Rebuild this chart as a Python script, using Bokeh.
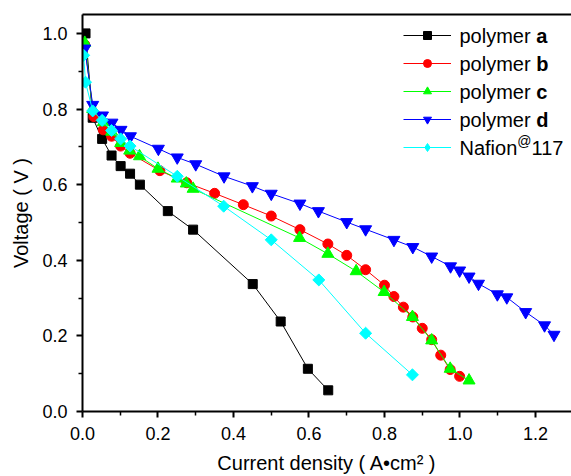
import math
from bokeh.plotting import figure
from bokeh.models import (Range1d, Legend, LegendItem, Label, LinearAxis,
                          FixedTicker, PrintfTickFormatter)
from bokeh.embed import file_html
from bokeh.resources import INLINE

# ---------------- data ----------------
a_x = [0.008, 0.027, 0.052, 0.077, 0.101, 0.126, 0.152, 0.226, 0.293, 0.451, 0.525, 0.597, 0.651]
a_y = [1.000, 0.777, 0.721, 0.677, 0.649, 0.629, 0.600, 0.530, 0.481, 0.337, 0.238, 0.113, 0.056]

b_x = [0.006, 0.030, 0.055, 0.077, 0.101, 0.126, 0.205, 0.276, 0.350, 0.426, 0.500, 0.576,
       0.650, 0.700, 0.750, 0.800, 0.825, 0.850, 0.875, 0.900, 0.925, 0.949, 0.974, 0.999]
b_y = [0.970, 0.780, 0.745, 0.728, 0.702, 0.683, 0.637, 0.605, 0.577, 0.547, 0.517, 0.481,
       0.443, 0.413, 0.375, 0.334, 0.304, 0.276, 0.250, 0.220, 0.190, 0.149, 0.111, 0.093]

c_x = [0.006, 0.027, 0.055, 0.077, 0.101, 0.125, 0.151, 0.200, 0.251, 0.275, 0.293,
       0.575, 0.650, 0.725, 0.799, 0.874, 0.925, 0.974, 1.024]
c_y = [0.975, 0.800, 0.765, 0.740, 0.710, 0.690, 0.675, 0.642, 0.616, 0.603, 0.589,
       0.459, 0.417, 0.371, 0.316, 0.250, 0.188, 0.113, 0.082]

d_x = [0.006, 0.027, 0.053, 0.078, 0.102, 0.127, 0.201, 0.251, 0.300, 0.375, 0.450, 0.500,
       0.576, 0.625, 0.700, 0.750, 0.825, 0.875, 0.925, 0.975, 0.999, 1.024, 1.049, 1.099,
       1.124, 1.174, 1.224, 1.249]
d_y = [0.960, 0.811, 0.783, 0.764, 0.745, 0.728, 0.695, 0.672, 0.654, 0.622, 0.596, 0.576,
       0.550, 0.530, 0.501, 0.482, 0.454, 0.435, 0.410, 0.384, 0.373, 0.357, 0.338, 0.310,
       0.302, 0.263, 0.228, 0.203]

n_x = [0.003, 0.008, 0.027, 0.052, 0.077, 0.101, 0.126, 0.251, 0.374, 0.500, 0.626, 0.750, 0.874]
n_y = [0.942, 0.871, 0.795, 0.770, 0.743, 0.721, 0.702, 0.622, 0.543, 0.454, 0.348, 0.207, 0.097]

x_ticks = [0.0, 0.2, 0.4, 0.6, 0.8, 1.0, 1.2]
x_minor = [0.1, 0.3, 0.5, 0.7, 0.9, 1.1]
y_ticks = [0.0, 0.2, 0.4, 0.6, 0.8, 1.0]
y_minor = [0.1, 0.3, 0.5, 0.7, 0.9]

legend_names = ["a", "b", "c", "d"]
nafion_parts = ["Nafion", "@", "117"]

FONT = "Liberation Sans"

# ---------------- figure ----------------
p = figure(width=571, height=476, output_backend="svg", toolbar_location=None,
           x_range=Range1d(0, 1.2954), y_range=Range1d(0, 1.05),
           min_border_left=82, min_border_right=0, min_border_top=14, min_border_bottom=65,
           background_fill_color="white", border_fill_color="white")
p.outline_line_color = None
p.xgrid.visible = False
p.ygrid.visible = False

for ax in (p.xaxis[0], p.yaxis[0]):
    ax.axis_line_width = 2
    ax.major_tick_line_width = 2
    ax.minor_tick_line_width = 1.5
    ax.major_tick_out = 6
    ax.major_tick_in = 0
    ax.minor_tick_out = 4
    ax.minor_tick_in = 0
    ax.major_label_text_font = FONT
    ax.major_label_text_font_size = "18px"
    ax.major_label_text_color = "black"
    ax.axis_label_text_font = FONT
    ax.axis_label_text_font_size = "20px"
    ax.axis_label_text_font_style = "normal"
    ax.axis_label_text_color = "black"
    ax.formatter = PrintfTickFormatter(format="%.1f")

p.xaxis[0].ticker = FixedTicker(ticks=x_ticks, minor_ticks=x_minor)
p.yaxis[0].ticker = FixedTicker(ticks=y_ticks, minor_ticks=y_minor)
p.xaxis[0].axis_label = "Current density ( A\u2022cm\u00b2 )"
p.yaxis[0].axis_label = "Voltage ( V )"
p.xaxis[0].major_label_standoff = 9
p.yaxis[0].major_label_standoff = 9
p.xaxis[0].axis_label_standoff = 9
p.yaxis[0].axis_label_standoff = 7

top = LinearAxis(ticker=FixedTicker(ticks=[]), axis_line_width=2,
                 major_tick_out=0, minor_tick_out=0, major_label_text_font_size="0px")
p.add_layout(top, "above")

# ---------------- series ----------------
series = [
    (a_x, a_y, "#000000", "square", 9, 0.0, None),
    (b_x, b_y, "#FF0000", "circle", 10, 0.0, None),
    (c_x, c_y, "#00FF00", "triangle", 12, 0.0, None),
    (d_x, d_y, "#0000FF", "inverted_triangle", 12, 0.0, None),
    (n_x, n_y, "#00FFFF", "square", 8.5, math.pi / 4, "diamond"),
]
items = []
for xs, ys, col, mk, sz, ang, leg_mk in series:
    lr = p.line(xs, ys, line_color=col, line_width=1)
    sr = p.scatter(xs, ys, marker=mk, size=sz, angle=ang, fill_color=col, line_color=col)
    if leg_mk is not None:
        # renderer with no visible point, only used to draw the legend symbol
        sr = p.scatter(x=[float("nan")], y=[float("nan")], marker=leg_mk, size=sz,
                       fill_color=col, line_color=col)
    items.append(LegendItem(label=" ", renderers=[lr, sr]))

LX, LY = 321, 254
GH, SP = 20, 8
legend = Legend(items=items, location=(LX, LY), glyph_width=48, glyph_height=GH,
                label_height=GH, label_width=0, spacing=SP, padding=0, margin=0,
                border_line_color=None, background_fill_alpha=0,
                label_standoff=0, label_text_font_size="1px")
p.add_layout(legend)

LFS = 20
leg_h = 5 * GH + 4 * SP
tx = LX + 48 + 8
centers = [LY + leg_h - GH / 2 - (GH + SP) * i for i in range(5)]
poly_w = (0.556 + 0.556 + 0.222 + 0.5 + 0.833 + 0.556 + 0.333 + 0.278) * LFS
for i, nm in enumerate(legend_names):
    p.add_layout(Label(x=tx, y=centers[i], x_units="screen", y_units="screen",
                       text="polymer", text_font=FONT, text_font_size=f"{LFS}px",
                       text_baseline="middle", text_color="black"))
    p.add_layout(Label(x=tx + poly_w, y=centers[i], x_units="screen", y_units="screen",
                       text=nm, text_font=FONT, text_font_size=f"{LFS}px",
                       text_font_style="bold", text_baseline="middle", text_color="black"))
naf_w = (0.722 + 0.556 + 0.278 + 0.222 + 0.556 + 0.556) * LFS
at_fs = 14
p.add_layout(Label(x=tx, y=centers[4], x_units="screen", y_units="screen",
                   text=nafion_parts[0], text_font=FONT, text_font_size=f"{LFS}px",
                   text_baseline="middle", text_color="black"))
p.add_layout(Label(x=tx + naf_w, y=centers[4] + 7, x_units="screen", y_units="screen",
                   text=nafion_parts[1], text_font=FONT, text_font_size=f"{at_fs}px",
                   text_baseline="middle", text_color="black"))
p.add_layout(Label(x=tx + naf_w + 1.015 * at_fs, y=centers[4], x_units="screen", y_units="screen",
                   text=nafion_parts[2], text_font=FONT, text_font_size=f"{LFS}px",
                   text_baseline="middle", text_color="black"))

open("out.html", "w").write(file_html(p, INLINE))
